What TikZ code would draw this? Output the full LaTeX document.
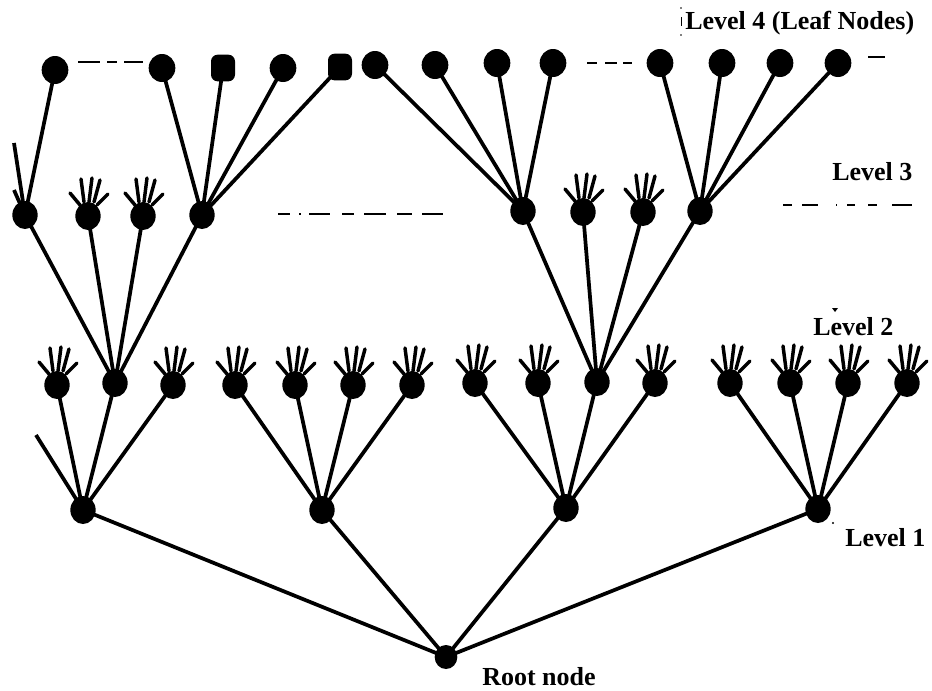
\documentclass[tikz,border=0pt]{standalone}
\usepackage{fontspec}
\setmainfont{Liberation Serif}
\usetikzlibrary{shapes.geometric,backgrounds}
\begin{document}
\begin{tikzpicture}[x=0.75pt,y=-0.75pt,
  dot/.style={ellipse,fill=black,inner sep=0pt,minimum width=19pt,minimum height=21pt},
  hand/.style={ellipse,fill=black,inner sep=0pt,minimum width=19pt,minimum height=21pt},
  leaf/.style={ellipse,fill=black,inner sep=0pt,minimum width=20pt,minimum height=21pt},
  sqleaf/.style={rectangle,rounded corners=5pt,fill=black,inner sep=0pt,minimum width=18pt,minimum height=20pt},
  edge/.style={line width=2.8pt},
  finger/.style={line width=2.6pt,line cap=round},
  guide/.style={line width=1.1pt},
  lbl/.style={font=\fontsize{19.5}{22}\selectfont\bfseries,anchor=west,inner sep=0pt}]
\useasboundingbox (0,0) rectangle (932,690);

% root and level 1
\node[dot,minimum width=17pt,minimum height=18pt] (root) at (446,657) {};
\node[dot] (l1a) at (83,510) {};
\node[dot] (l1b) at (322,510) {};
\node[dot] (l1c) at (566,508) {};
\node[dot] (l1d) at (818,509) {};

% level 2
\node[hand] (m1)  at (57,385) {};
\node[dot]  (m2)  at (115,383) {};
\node[hand] (m3)  at (173,385) {};
\node[hand] (m4)  at (235,385) {};
\node[hand] (m5)  at (295,385) {};
\node[hand] (m6)  at (353,385) {};
\node[hand] (m7)  at (412,385) {};
\node[hand] (m8)  at (475,383) {};
\node[hand] (m9)  at (538,383) {};
\node[dot]  (m10) at (597,382) {};
\node[hand] (m11) at (655,383) {};
\node[hand] (m12) at (730,383) {};
\node[hand] (m13) at (790,383) {};
\node[hand] (m14) at (848,383) {};
\node[hand] (m15) at (907,383) {};

% level 3
\node[dot]  (t1) at (25,215) {};
\node[hand] (t2) at (88,216) {};
\node[hand] (t3) at (143,216) {};
\node[dot]  (t4) at (202,215) {};
\node[dot]  (t5) at (523,211) {};
\node[hand] (t6) at (583,212) {};
\node[hand] (t7) at (643,212) {};
\node[dot]  (t8) at (700,211) {};

% level 4 (leaves)
\node[leaf]   (f1)  at (55,70) {};
\node[leaf]   (f2)  at (162,68) {};
\node[sqleaf] (f3)  at (223,68) {};
\node[leaf]   (f4)  at (283,68) {};
\node[sqleaf] (f5)  at (340,67) {};
\node[leaf]   (f6)  at (375,65) {};
\node[leaf]   (f7)  at (435,65) {};
\node[leaf]   (f8)  at (497,63) {};
\node[leaf]   (f9)  at (553,63) {};
\node[leaf]   (f10) at (660,63) {};
\node[leaf]   (f11) at (722,63) {};
\node[leaf]   (f12) at (780,63) {};
\node[leaf]   (f13) at (838,63) {};

% loose ends of branches running off the left edge
\coordinate (cA) at (36,435);
\coordinate (cB) at (14,143);
\coordinate (cC) at (14,190);

\begin{scope}[on background layer]
  \fill[white] (0,0) rectangle (932,690);
  \foreach \c in {l1a,l1b,l1c,l1d} \draw[edge] (root.center) -- (\c.center);
  \foreach \c in {m1,m2,m3} \draw[edge] (l1a.center) -- (\c.center);
  \draw[edge] (l1a.center) -- (cA);
  \foreach \c in {m4,m5,m6,m7} \draw[edge] (l1b.center) -- (\c.center);
  \foreach \c in {m8,m9,m10,m11} \draw[edge] (l1c.center) -- (\c.center);
  \foreach \c in {m12,m13,m14,m15} \draw[edge] (l1d.center) -- (\c.center);
  \foreach \c in {t1,t2,t3,t4} \draw[edge] (m2.center) -- (\c.center);
  \foreach \c in {t5,t6,t7,t8} \draw[edge] (m10.center) -- (\c.center);
  \draw[edge] (t1.center) -- (f1.center);
  \draw[edge] (t1.center) -- (cB);
  \draw[edge] (t1.center) -- (cC);
  \foreach \c in {f2,f3,f4,f5} \draw[edge] (t4.center) -- (\c.center);
  \foreach \c in {f6,f7,f8,f9} \draw[edge] (t5.center) -- (\c.center);
  \foreach \c in {f10,f11,f12,f13} \draw[edge] (t8.center) -- (\c.center);
\end{scope}

% finger stubs on the unexpanded nodes
\newcommand\handfingers[1]{%
  \draw[finger] ([shift={(-8,-11)}]#1.center) -- ([shift={(-18,-23)}]#1.center);
  \draw[finger] ([shift={(-4,-14)}]#1.center) -- ([shift={(-7,-37)}]#1.center);
  \draw[finger] ([shift={(1,-14)}]#1.center) -- ([shift={(4,-38)}]#1.center);
  \draw[finger] ([shift={(6,-14)}]#1.center) -- ([shift={(12,-36)}]#1.center);
  \draw[finger] ([shift={(9,-11)}]#1.center) -- ([shift={(20,-22)}]#1.center);}
\foreach \h in {m1,m3,m4,m5,m6,m7,m8,m9,m11,m12,m13,m14,m15,t2,t3,t6,t7}
  {\handfingers{\h}}

% elision marks between nodes
\draw[guide] (78,62) -- (100,62) (107,62) -- (117,62) (124,62) -- (143,62);
\draw[guide] (587,63) -- (597,63) (605,63) -- (617,63) (623,63) -- (632,63);
\draw[guide] (868,57) -- (885,57);
\draw[guide] (278,214) -- (290,214) (299,214) -- (301,214) (309,214) -- (330,214)
  (342,214) -- (354,214) (364,214) -- (386,214) (397,214) -- (412,214) (422,214) -- (443,214);
\draw[guide] (783,205) -- (792,205) (802,205) -- (818,205) (836,205) -- (837,205)
  (847,205) -- (855,205) (868,205) -- (877,205) (892,205) -- (912,205);

% level labels
\node[lbl] (lab4) at (685,23) {Level 4 (Leaf Nodes)};
\node[lbl] (lab3) at (832,172) {Level 3};
\node[lbl] (lab2) at (813,327) {Level 2};
\node[lbl] (lab1) at (845,538) {Level 1};
\node[lbl] (labr) at (482,677) {Root node};

% small stray marks beside the labels
\draw[line width=0.6pt] (681,17) -- (681,26);
\fill (681,8) circle (0.6pt) (681,35) circle (0.6pt);
\fill (832,308) -- (838,308) -- (835,312) -- cycle;
\fill (833,523) circle (0.8pt);
\end{tikzpicture}
\end{document}
